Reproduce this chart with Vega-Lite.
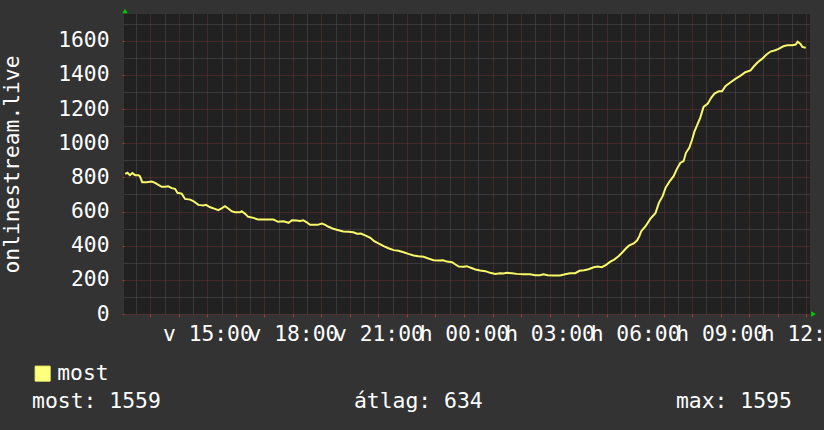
{
  "$schema": "https://vega.github.io/schema/vega-lite/v6.json",
  "width": 686,
  "height": 300,
  "autosize": {"type": "none"},
  "padding": {"left": 124, "top": 14, "right": 14, "bottom": 116},
  "background": "#333333",
  "config": {
    "view": {"fill": "#212121", "stroke": null},
    "font": "DejaVu Sans Mono",
    "axis": {"labelFont": "DejaVu Sans Mono", "titleFont": "DejaVu Sans Mono", "labelColor": "#ffffff", "titleColor": "#ffffff", "labelFontSize": 21.3, "titleFontSize": 21.3, "titleFontWeight": "normal"}
  },
  "datasets": {
    "series": [
      {"t": "2024-06-09T12:07:00Z", "v": 821}, {"t": "2024-06-09T12:12:00Z", "v": 827}, {"t": "2024-06-09T12:17:00Z", "v": 813},
      {"t": "2024-06-09T12:22:00Z", "v": 825}, {"t": "2024-06-09T12:28:00Z", "v": 813}, {"t": "2024-06-09T12:35:00Z", "v": 813},
      {"t": "2024-06-09T12:38:00Z", "v": 807}, {"t": "2024-06-09T12:43:00Z", "v": 772}, {"t": "2024-06-09T12:52:00Z", "v": 772},
      {"t": "2024-06-09T13:03:00Z", "v": 776}, {"t": "2024-06-09T13:10:00Z", "v": 768}, {"t": "2024-06-09T13:17:00Z", "v": 756},
      {"t": "2024-06-09T13:24:00Z", "v": 745}, {"t": "2024-06-09T13:31:00Z", "v": 745}, {"t": "2024-06-09T13:38:00Z", "v": 748},
      {"t": "2024-06-09T13:45:00Z", "v": 737}, {"t": "2024-06-09T13:52:00Z", "v": 733}, {"t": "2024-06-09T13:57:00Z", "v": 710},
      {"t": "2024-06-09T14:06:00Z", "v": 705}, {"t": "2024-06-09T14:13:00Z", "v": 674}, {"t": "2024-06-09T14:24:00Z", "v": 670},
      {"t": "2024-06-09T14:32:00Z", "v": 659}, {"t": "2024-06-09T14:41:00Z", "v": 639}, {"t": "2024-06-09T14:52:00Z", "v": 635},
      {"t": "2024-06-09T14:57:00Z", "v": 639}, {"t": "2024-06-09T15:06:00Z", "v": 625}, {"t": "2024-06-09T15:16:00Z", "v": 616},
      {"t": "2024-06-09T15:23:00Z", "v": 608}, {"t": "2024-06-09T15:30:00Z", "v": 619}, {"t": "2024-06-09T15:37:00Z", "v": 631},
      {"t": "2024-06-09T15:44:00Z", "v": 618}, {"t": "2024-06-09T15:51:00Z", "v": 602}, {"t": "2024-06-09T15:58:00Z", "v": 596},
      {"t": "2024-06-09T16:09:00Z", "v": 596}, {"t": "2024-06-09T16:12:00Z", "v": 602}, {"t": "2024-06-09T16:19:00Z", "v": 588},
      {"t": "2024-06-09T16:26:00Z", "v": 569}, {"t": "2024-06-09T16:37:00Z", "v": 563}, {"t": "2024-06-09T16:47:00Z", "v": 553},
      {"t": "2024-06-09T16:58:00Z", "v": 553}, {"t": "2024-06-09T17:19:00Z", "v": 553}, {"t": "2024-06-09T17:29:00Z", "v": 540},
      {"t": "2024-06-09T17:40:00Z", "v": 543}, {"t": "2024-06-09T17:51:00Z", "v": 534}, {"t": "2024-06-09T17:58:00Z", "v": 549},
      {"t": "2024-06-09T18:08:00Z", "v": 547}, {"t": "2024-06-09T18:15:00Z", "v": 545}, {"t": "2024-06-09T18:22:00Z", "v": 549},
      {"t": "2024-06-09T18:29:00Z", "v": 537}, {"t": "2024-06-09T18:36:00Z", "v": 522}, {"t": "2024-06-09T18:52:00Z", "v": 522},
      {"t": "2024-06-09T19:01:00Z", "v": 530}, {"t": "2024-06-09T19:08:00Z", "v": 522}, {"t": "2024-06-09T19:15:00Z", "v": 511},
      {"t": "2024-06-09T19:25:00Z", "v": 499}, {"t": "2024-06-09T19:36:00Z", "v": 491}, {"t": "2024-06-09T19:46:00Z", "v": 483},
      {"t": "2024-06-09T19:57:00Z", "v": 481}, {"t": "2024-06-09T20:07:00Z", "v": 479}, {"t": "2024-06-09T20:15:00Z", "v": 470},
      {"t": "2024-06-09T20:23:00Z", "v": 471}, {"t": "2024-06-09T20:32:00Z", "v": 460}, {"t": "2024-06-09T20:43:00Z", "v": 446},
      {"t": "2024-06-09T20:51:00Z", "v": 426}, {"t": "2024-06-09T21:00:00Z", "v": 413}, {"t": "2024-06-09T21:11:00Z", "v": 397},
      {"t": "2024-06-09T21:21:00Z", "v": 385}, {"t": "2024-06-09T21:32:00Z", "v": 374}, {"t": "2024-06-09T21:42:00Z", "v": 370},
      {"t": "2024-06-09T21:53:00Z", "v": 362}, {"t": "2024-06-09T22:03:00Z", "v": 352}, {"t": "2024-06-09T22:14:00Z", "v": 343},
      {"t": "2024-06-09T22:24:00Z", "v": 338}, {"t": "2024-06-09T22:35:00Z", "v": 335}, {"t": "2024-06-09T22:45:00Z", "v": 325},
      {"t": "2024-06-09T22:56:00Z", "v": 315}, {"t": "2024-06-09T23:06:00Z", "v": 313}, {"t": "2024-06-09T23:16:00Z", "v": 315},
      {"t": "2024-06-09T23:24:00Z", "v": 307}, {"t": "2024-06-09T23:35:00Z", "v": 303}, {"t": "2024-06-09T23:42:00Z", "v": 290},
      {"t": "2024-06-09T23:49:00Z", "v": 278}, {"t": "2024-06-09T23:59:00Z", "v": 277}, {"t": "2024-06-10T00:06:00Z", "v": 280},
      {"t": "2024-06-10T00:13:00Z", "v": 272}, {"t": "2024-06-10T00:24:00Z", "v": 261}, {"t": "2024-06-10T00:34:00Z", "v": 255},
      {"t": "2024-06-10T00:45:00Z", "v": 251}, {"t": "2024-06-10T00:55:00Z", "v": 241}, {"t": "2024-06-10T01:06:00Z", "v": 235},
      {"t": "2024-06-10T01:16:00Z", "v": 239}, {"t": "2024-06-10T01:23:00Z", "v": 237}, {"t": "2024-06-10T01:30:00Z", "v": 241},
      {"t": "2024-06-10T01:41:00Z", "v": 239}, {"t": "2024-06-10T01:51:00Z", "v": 235}, {"t": "2024-06-10T02:05:00Z", "v": 233},
      {"t": "2024-06-10T02:19:00Z", "v": 233}, {"t": "2024-06-10T02:30:00Z", "v": 227}, {"t": "2024-06-10T02:40:00Z", "v": 227},
      {"t": "2024-06-10T02:47:00Z", "v": 233}, {"t": "2024-06-10T02:56:00Z", "v": 227}, {"t": "2024-06-10T03:08:00Z", "v": 225},
      {"t": "2024-06-10T03:22:00Z", "v": 225}, {"t": "2024-06-10T03:33:00Z", "v": 233}, {"t": "2024-06-10T03:43:00Z", "v": 239},
      {"t": "2024-06-10T03:54:00Z", "v": 239}, {"t": "2024-06-10T04:03:00Z", "v": 253}, {"t": "2024-06-10T04:13:00Z", "v": 256},
      {"t": "2024-06-10T04:22:00Z", "v": 262}, {"t": "2024-06-10T04:33:00Z", "v": 274}, {"t": "2024-06-10T04:41:00Z", "v": 278},
      {"t": "2024-06-10T04:50:00Z", "v": 274}, {"t": "2024-06-10T04:59:00Z", "v": 288}, {"t": "2024-06-10T05:08:00Z", "v": 307},
      {"t": "2024-06-10T05:16:00Z", "v": 319}, {"t": "2024-06-10T05:25:00Z", "v": 338}, {"t": "2024-06-10T05:33:00Z", "v": 360},
      {"t": "2024-06-10T05:40:00Z", "v": 382}, {"t": "2024-06-10T05:47:00Z", "v": 400}, {"t": "2024-06-10T05:57:00Z", "v": 413},
      {"t": "2024-06-10T06:04:00Z", "v": 430}, {"t": "2024-06-10T06:09:00Z", "v": 456}, {"t": "2024-06-10T06:13:00Z", "v": 485},
      {"t": "2024-06-10T06:22:00Z", "v": 514}, {"t": "2024-06-10T06:32:00Z", "v": 557}, {"t": "2024-06-10T06:43:00Z", "v": 592},
      {"t": "2024-06-10T06:50:00Z", "v": 651}, {"t": "2024-06-10T06:58:00Z", "v": 690}, {"t": "2024-06-10T07:04:00Z", "v": 739},
      {"t": "2024-06-10T07:13:00Z", "v": 778}, {"t": "2024-06-10T07:21:00Z", "v": 807}, {"t": "2024-06-10T07:28:00Z", "v": 850},
      {"t": "2024-06-10T07:35:00Z", "v": 885}, {"t": "2024-06-10T07:42:00Z", "v": 895}, {"t": "2024-06-10T07:47:00Z", "v": 944},
      {"t": "2024-06-10T07:54:00Z", "v": 973}, {"t": "2024-06-10T08:00:00Z", "v": 1022}, {"t": "2024-06-10T08:05:00Z", "v": 1070},
      {"t": "2024-06-10T08:11:00Z", "v": 1109}, {"t": "2024-06-10T08:17:00Z", "v": 1149}, {"t": "2024-06-10T08:24:00Z", "v": 1213},
      {"t": "2024-06-10T08:33:00Z", "v": 1232}, {"t": "2024-06-10T08:40:00Z", "v": 1266}, {"t": "2024-06-10T08:47:00Z", "v": 1291},
      {"t": "2024-06-10T08:56:00Z", "v": 1304}, {"t": "2024-06-10T09:03:00Z", "v": 1304}, {"t": "2024-06-10T09:10:00Z", "v": 1334},
      {"t": "2024-06-10T09:21:00Z", "v": 1357}, {"t": "2024-06-10T09:31:00Z", "v": 1377}, {"t": "2024-06-10T09:42:00Z", "v": 1396},
      {"t": "2024-06-10T09:52:00Z", "v": 1416}, {"t": "2024-06-10T10:03:00Z", "v": 1427}, {"t": "2024-06-10T10:10:00Z", "v": 1451},
      {"t": "2024-06-10T10:18:00Z", "v": 1474}, {"t": "2024-06-10T10:27:00Z", "v": 1494}, {"t": "2024-06-10T10:36:00Z", "v": 1518},
      {"t": "2024-06-10T10:45:00Z", "v": 1537}, {"t": "2024-06-10T10:55:00Z", "v": 1545}, {"t": "2024-06-10T11:02:00Z", "v": 1553},
      {"t": "2024-06-10T11:12:00Z", "v": 1568}, {"t": "2024-06-10T11:20:00Z", "v": 1574}, {"t": "2024-06-10T11:31:00Z", "v": 1574},
      {"t": "2024-06-10T11:38:00Z", "v": 1578}, {"t": "2024-06-10T11:42:00Z", "v": 1595}, {"t": "2024-06-10T11:48:00Z", "v": 1582},
      {"t": "2024-06-10T11:52:00Z", "v": 1564}, {"t": "2024-06-10T11:59:00Z", "v": 1559}
    ],
    "topArrow": [{"t": "2024-06-09T12:04:36Z", "v": 1757}],
    "rightArrow": [{"t": "2024-06-10T12:08:00Z", "v": 0}]
  },
  "resolve": {"axis": {"y": "independent"}},
  "layer": [
    {
      "data": {"name": "series"},
      "mark": {"type": "line", "opacity": 0},
      "encoding": {
        "x": {"field": "t", "type": "temporal",
          "scale": {"type": "utc", "domain": [1717934676000, 1718021280000]},
          "axis": {"orient": "bottom", "tickCount": 48,
            "grid": true, "gridDash": [1, 1], "gridWidth": 1,
            "gridColor": {"condition": {"test": "utcminutes(datum.value) == 0", "value": "#6a3232"}, "value": "#525252"},
            "ticks": true, "tickSize": 3,
            "tickColor": {"condition": {"test": "utcminutes(datum.value) == 0", "value": "#a03c3c"}, "value": "#5c5c5c"},
            "tickOpacity": {"condition": {"test": "utcminutes(datum.value) == 0", "value": 1}, "value": 0},
            "domain": false, "title": null, "labelPadding": 6, "labelOverlap": false, "labelFlush": false, "labelBound": false,
            "labelExpr": "(utcminutes(datum.value) == 0 && utchours(datum.value) % 3 == 0) ? ((utcday(datum.value) == 0 ? 'v' : 'h') + ' ' + utcFormat(datum.value, '%H:%M')) : ''"}},
        "y": {"field": "v", "type": "quantitative",
          "scale": {"domain": [0, 1757], "nice": false},
          "axis": {"orient": "left", "values": [100, 300, 500, 700, 900, 1100, 1300, 1500, 1700],
            "grid": true, "gridDash": [1, 1], "gridWidth": 1, "gridColor": "#525252",
            "ticks": false, "labels": false, "domain": false, "title": null}}
      }
    },
    {
      "data": {"name": "series"},
      "mark": {"type": "line", "strokeWidth": 2},
      "encoding": {
        "x": {"field": "t", "type": "temporal"},
        "y": {"field": "v", "type": "quantitative",
          "axis": {"orient": "left", "values": [0, 200, 400, 600, 800, 1000, 1200, 1400, 1600],
            "format": "d", "labelOverlap": false,
            "grid": true, "gridDash": [1, 1], "gridWidth": 1, "gridColor": "#6a3232",
            "ticks": true, "tickSize": 2, "tickColor": "#a03c3c",
            "labelPadding": 13, "domain": false,
            "title": "onlinestream.live", "titleX": -105.5, "titleY": 150, "titleAngle": 270, "titleAlign": "center", "titleBaseline": "alphabetic"}},
        "color": {"datum": "most", "type": "nominal", "scale": {"range": ["#f8f86a"]},
          "legend": {"orient": "none", "legendX": -92, "legendY": 349, "padding": 0,
            "title": "most: 1559\u00a0\u00a0\u00a0\u00a0\u00a0\u00a0\u00a0\u00a0\u00a0\u00a0\u00a0\u00a0\u00a0\u00a0\u00a0átlag: 634\u00a0\u00a0\u00a0\u00a0\u00a0\u00a0\u00a0\u00a0\u00a0\u00a0\u00a0\u00a0\u00a0\u00a0\u00a0max: 1595",
            "titleOrient": "bottom", "titleAnchor": "start", "titleAlign": "left", "titleFont": "DejaVu Sans Mono", "titleFontSize": 21.4, "titleFontWeight": "normal", "titleColor": "#ffffff", "titleLimit": 2000, "titlePadding": 7,
            "labelFont": "DejaVu Sans Mono", "labelFontSize": 21.3, "labelColor": "#ffffff", "labelOffset": 4,
            "symbolType": "square", "symbolSize": 225, "symbolStrokeWidth": 1,
            "encode": {"symbols": {"update": {"fill": {"value": "#ffff80"}, "stroke": {"value": "#000000"}, "opacity": {"value": 1}, "strokeWidth": {"value": 1}}}}}}
      }
    },
    {
      "data": {"name": "topArrow"},
      "mark": {"type": "point", "shape": "triangle-up", "filled": true, "size": 30, "color": "#00c800", "opacity": 1, "xOffset": 1, "yOffset": -3},
      "encoding": {
        "x": {"field": "t", "type": "temporal"},
        "y": {"field": "v", "type": "quantitative", "axis": null}
      }
    },
    {
      "data": {"name": "rightArrow"},
      "mark": {"type": "point", "shape": "triangle-right", "filled": true, "size": 30, "color": "#00c800", "opacity": 1, "xOffset": 3.5},
      "encoding": {
        "x": {"field": "t", "type": "temporal"},
        "y": {"field": "v", "type": "quantitative", "axis": null}
      }
    }
  ]
}
